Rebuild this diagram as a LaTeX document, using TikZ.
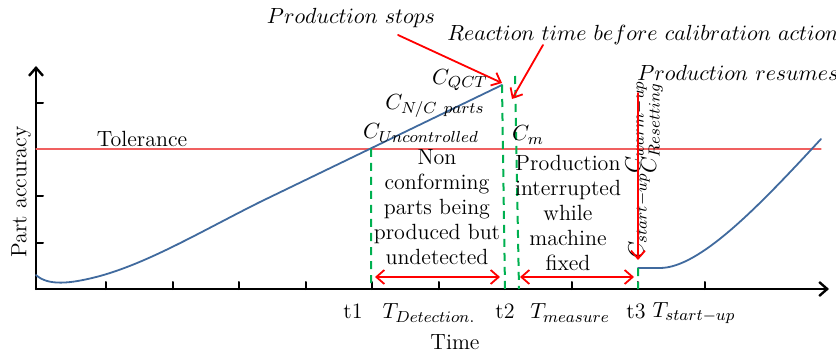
\documentclass[tikz,border=0pt]{standalone}
\usepackage{amsmath,amssymb}
\usetikzlibrary{arrows.meta,calc}
\DeclareMathSizes{11}{11}{8.2}{6}
\definecolor{curveblue}{RGB}{64,106,158}
\definecolor{tolred}{RGB}{240,96,96}
\definecolor{dgreen}{RGB}{0,176,80}
\begin{document}
\begin{tikzpicture}[x=0.5pt,y=-0.5pt,>={Straight Barb[length=4pt,width=7pt]}, font=\fontsize{11}{12.5}\selectfont, line join=round, line cap=round,
	axis/.style={line width=1.2pt,->},
	crv/.style={curveblue,line width=0.9pt},
	gline/.style={dgreen,line width=1pt,dash pattern=on 4pt off 3pt,line cap=butt},
	rarrow/.style={red,line width=0.9pt,->}]
	\useasboundingbox (0,0) rectangle (836,353);
	\def \gap{66.5} %khoang cach vach truc thoi gian
	\coordinate (O) at (36,289);
	\coordinate (Y) at (36,66);
	\coordinate (X) at (829,289);
	\coordinate (U) at (371,149);
	\coordinate (P) at (502,85);
	\coordinate (Q) at (515,76);
	\coordinate (R) at (638,268);
	\coordinate (a) at (371,289);
	\coordinate (b) at (505,289);
	\coordinate (c) at (519,289);
	\coordinate (d) at (638,289);
	% truc toa do
	\draw[axis] (O)--(Y);
	\draw[axis] (O)--(X);
	\foreach \k in {1,...,4} \draw[line width=1pt] (36,289-46.5*\k)--++(7,0);
	\foreach \k in {0,...,9} \draw[line width=1pt] (106+\gap*\k,289)--++(0,-7);
	% dung sai
	\draw[tolred,line width=0.6pt] (36,149)--(821,149);
	% duong cong do chinh xac
	\draw[crv] (36,275) .. controls (48,286) and (70,284) .. (100,276) .. controls (150,262) and (200,232) .. (260,202)--(P);
	\draw[crv] (R)--(660,268) .. controls (700,268) and (760,205) .. (821,139);
	\draw[gline] (U)--(a) (P)--(b) (Q)--(c) (R)--(d);
	% nhan
	\node (tol) at (142,139) {Tolerance};
	\node (stops) at (351,18) {$Production\ stops$};
	\node (react) at (643,35) {$Reaction\ time\ before\ calibration\ action$};
	\node (resume) at (738,73) {$Production\ resumes$};
	\node (cqct) at (460,80) {$C_{QCT}$};
	\node (cnc) at (435,106) {$C_{N/C\ parts}$};
	\node (cunc) at (421,133) {$C_{Uncontrolled}$};
	\node (cm) at (528,135) {$C_m$};
	\node[align=center] (nonconf) at (437,207) {Non\\conforming\\parts being\\produced but\\undetected};
	\node[align=center] (interr) at (568,213) {Production\\interrupted\\while\\machine\\fixed};
	\node[rotate=90] (cwarm) at (636,127) {$C_{warm-up}$};
	\node[rotate=90] (creset) at (652,128) {$C_{Resetting}$};
	\node[rotate=90] (cstart) at (639,216) {$C_{start-up}$};
	\node (lt1) at (353,311) {t1};
	\node (lt2) at (505,311) {t2};
	\node (lt3) at (636,311) {t3};
	\node (tdet) at (429,313) {$T_{Detection.}$};
	\node (tmeas) at (570,313) {$T_{measure}$};
	\node (tstart) at (694,313) {$T_{start-up}$};
	\node (time) at (455,342) {Time};
	\node[rotate=90] (acc) at (21,192) {Part accuracy};
	% mui ten do
	\coordinate (s) at (398,35);
	\coordinate (s') at (502,83);
	\coordinate (r) at (543,45);
	\coordinate (r') at (512,99);
	\coordinate (v) at (638,93);
	\coordinate (v') at (638,260);
	\draw[rarrow] (s)--(s');
	\draw[rarrow] (r)--(r');
	\draw[rarrow] (v)--(v');
	\draw[rarrow,<->] (375,277)--(500,277);
	\draw[rarrow,<->] (520,277)--(634,277);
\end{tikzpicture}
\end{document}
